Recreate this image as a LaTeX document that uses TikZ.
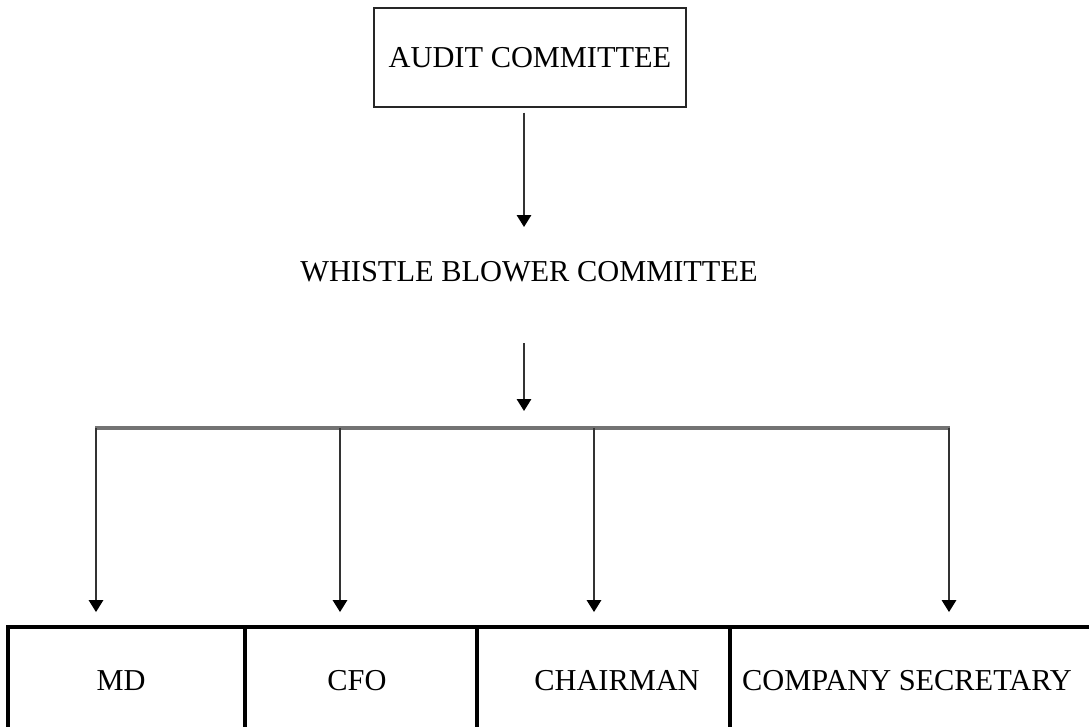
\documentclass[tikz,border=0pt]{standalone}
\usepackage{fontspec}
\setmainfont{Liberation Serif}
\usetikzlibrary{positioning}
\usetikzlibrary{arrows.meta}

\begin{document}
\begin{tikzpicture}[x=0.025cm, y=-0.025cm,
  every node/.style={font=\fontsize{21.6}{26}\selectfont},
  topbox/.style={draw, black!85, text=black, line width=0.8pt, minimum width=7.8cm, minimum height=2.475cm},
  link/.style={black!80, line width=1.3pt, -{Triangle[length=3mm,width=3.6mm,black]}},
  busline/.style={black!55, line width=2.2pt},
  cellline/.style={black, line width=2.2pt}]

\useasboundingbox (0,0) rectangle (1089,726);

\begin{scope}

\node[topbox] (audit) at (530,57.5) {AUDIT COMMITTEE};

\node (wbc) at (529,272) {WHISTLE BLOWER COMMITTEE};

\coordinate (wbin) at (524,227);
\coordinate (wbout) at (524,343);
\coordinate (wbtip) at (524,411);

\draw[link] (audit.south -| wbin) ++(0,5) -- (wbin);
\draw[link] (wbout) -- (wbtip);

% drops to the bottom row
\coordinate (d1) at (96,428);
\coordinate (d2) at (340,428);
\coordinate (d3) at (594,428);
\coordinate (d4) at (949,428);

\draw[busline] ([xshift=-0.6pt]d1) -- ([xshift=0.6pt]d4);

\foreach \i in {1,...,4}
{
\coordinate (t\i) at ([yshift=-4.6cm]d\i);
\draw[link] (d\i) -- (t\i);
}

\end{scope}


\begin{scope}

\node (md) at (121,681) {MD};
\node (cfo) at (357,681) {CFO};
\node (chair) at (617,681) {CHAIRMAN};
\node (secr) at (907,681) {COMPANY SECRETARY};

\draw[cellline] (8,745) |- (1100,627);
\foreach \x in {245,477,730}
{
\draw[cellline] (\x,627) -- (\x,745);
}

\end{scope}

\end{tikzpicture}
\end{document}
